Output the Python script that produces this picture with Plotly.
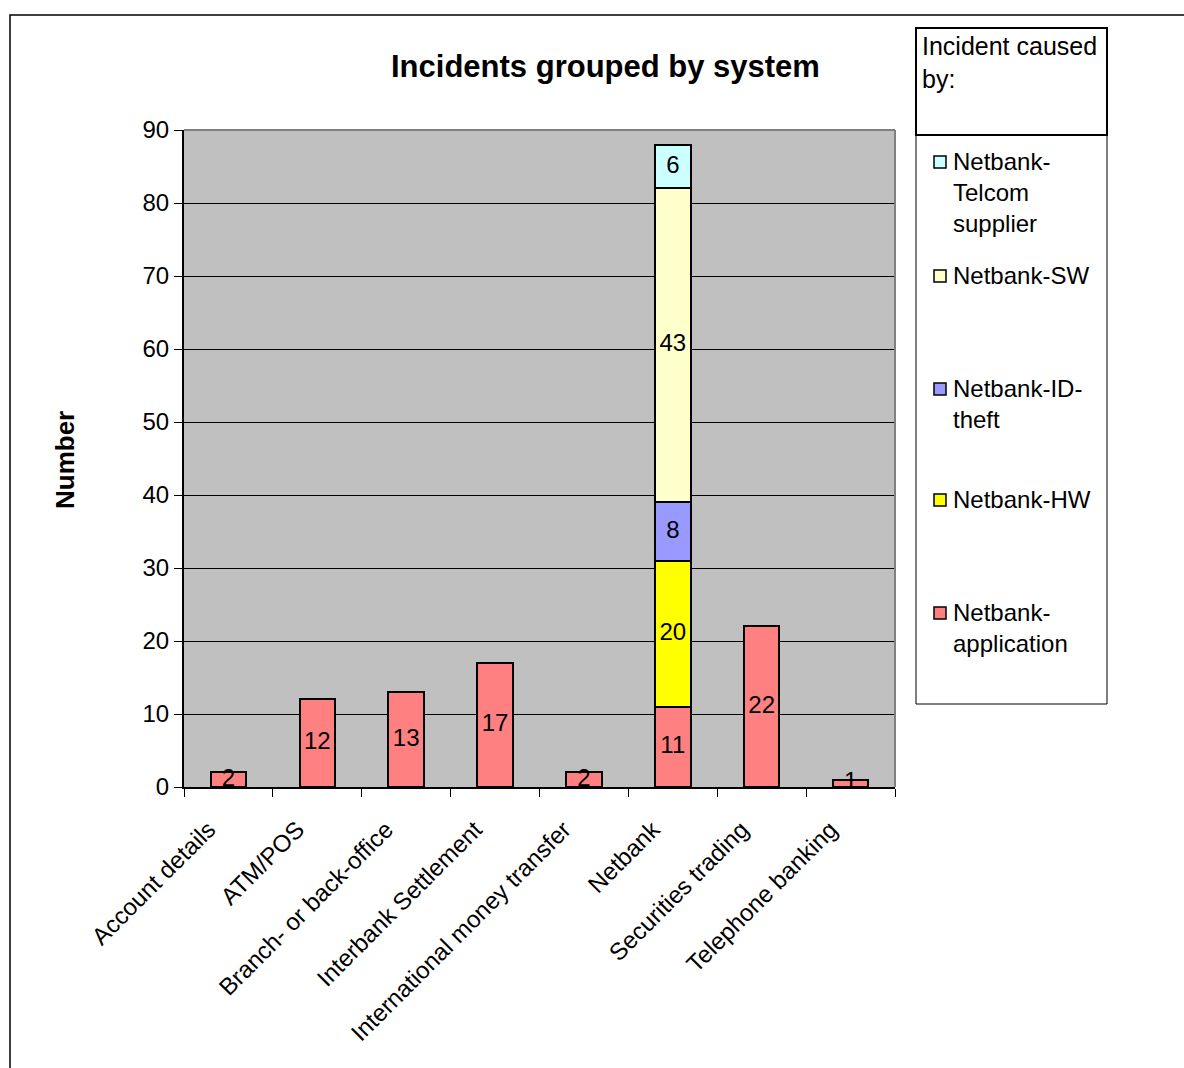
import plotly.graph_objects as go

categories = ["Account details", "ATM/POS", "Branch- or back-office", "Interbank Settlement",
              "International money transfer", "Netbank", "Securities trading", "Telephone banking"]
app_vals = [2, 12, 13, 17, 2, 11, 22, 1]
hw_vals = [None, None, None, None, None, 20, None, None]
id_vals = [None, None, None, None, None, 8, None, None]
sw_vals = [None, None, None, None, None, 43, None, None]
tel_vals = [None, None, None, None, None, 6, None, None]

series_names = ["Netbank-application", "Netbank-HW", "Netbank-ID-theft", "Netbank-SW", "Netbank-Telcom supplier"]
legend_labels = ["Netbank-<br>application", "Netbank-HW", "Netbank-ID-<br>theft", "Netbank-SW", "Netbank-<br>Telcom<br>supplier"]
series_vals = [app_vals, hw_vals, id_vals, sw_vals, tel_vals]
colors = ["#FF8080", "#FFFF00", "#9999FF", "#FFFFCC", "#CCFFFF"]

W, H = 1184, 1068
L, R, T, B = 184, 895, 130, 787
FONT = "Liberation Sans, Arial, sans-serif"

def px(x):
    return (x - L) / (R - L)

def py(y):
    return (B - y) / (B - T)

fig = go.Figure()
base = [0] * len(categories)
for name, vals, col in zip(series_names, series_vals, colors):
    fig.add_trace(go.Bar(x=categories, y=[v if v is not None else 0 for v in vals], name=name,
                         marker=dict(color=col, line=dict(color="black", width=2)),
                         width=0.4, showlegend=False))
    mids, labs, xs = [], [], []
    for i, v in enumerate(vals):
        if v:
            xs.append(categories[i])
            mids.append(base[i] + v / 2)
            labs.append(str(v))
            base[i] += v
    fig.add_trace(go.Scatter(x=xs, y=mids, text=labs, mode="text", showlegend=False,
                             textfont=dict(family=FONT, size=24, color="black"),
                             textposition="middle center", cliponaxis=False, hoverinfo="skip"))

fig.update_layout(
    barmode="stack",
    width=W, height=H,
    margin=dict(l=L, r=W - R, t=T, b=H - B, pad=0),
    paper_bgcolor="white",
    plot_bgcolor="#C0C0C0",
    font=dict(family=FONT, size=24, color="black"),
    showlegend=False,
)
fig.update_xaxes(type="category", tickangle=-45, tickson="boundaries", ticks="outside", ticklen=8,
                 tickcolor="black", tickwidth=1, showline=True, linecolor="black", linewidth=2,
                 showgrid=False, tickfont=dict(size=24), range=[-0.5, 7.5], ticklabelstandoff=17,
                 ticklabelshift=-20, automargin=False)
fig.update_yaxes(range=[0, 90], dtick=10, ticks="outside", ticklen=8, tickcolor="black",
                 showline=True, linecolor="black", linewidth=2, showgrid=True, gridcolor="black",
                 gridwidth=1, zeroline=False, tickfont=dict(size=24), automargin=False)

shapes = []
# chart frame
shapes.append(dict(type="rect", xref="paper", yref="paper", x0=px(10), x1=px(1300), y0=py(1200), y1=py(15),
                   line=dict(color="black", width=1.5), fillcolor="rgba(0,0,0,0)", layer="below"))
# plot area top/right border
shapes.append(dict(type="line", xref="paper", yref="paper", x0=0, x1=1, y0=1, y1=1, line=dict(color="#808080", width=2)))
shapes.append(dict(type="line", xref="paper", yref="paper", x0=1, x1=1, y0=0, y1=1, line=dict(color="#808080", width=2)))
# legend box
shapes.append(dict(type="rect", xref="paper", yref="paper", x0=px(916), x1=px(1107), y0=py(704), y1=py(135),
                   line=dict(color="black", width=1), fillcolor="white"))
shapes.append(dict(type="rect", xref="paper", yref="paper", x0=px(916), x1=px(1107), y0=py(135), y1=py(28),
                   line=dict(color="black", width=2), fillcolor="white"))

annotations = []
annotations.append(dict(text="<b>Incidents grouped by system</b>", xref="paper", yref="paper",
                        x=px(605), y=py(66), showarrow=False, font=dict(size=31), xanchor="center", yanchor="middle"))
annotations.append(dict(text="<b>Number</b>", xref="paper", yref="paper", x=px(65), y=py(460),
                        showarrow=False, textangle=-90, font=dict(size=26), xanchor="center", yanchor="middle"))
annotations.append(dict(text="Incident caused<br>by:", xref="paper", yref="paper", x=px(920), y=py(30),
                        showarrow=False, align="left", xanchor="left", yanchor="top", font=dict(size=25)))

# legend entries (top to bottom): Telcom, SW, ID-theft, HW, application
sq_y = [162, 276, 389, 500, 613]
order = [4, 3, 2, 1, 0]
for idx, yc in zip(order, sq_y):
    shapes.append(dict(type="rect", xref="paper", yref="paper", x0=px(934), x1=px(946), y0=py(yc + 6), y1=py(yc - 6),
                       line=dict(color="black", width=1.5), fillcolor=colors[idx]))
    annotations.append(dict(text=legend_labels[idx], xref="paper", yref="paper", x=px(951), y=py(yc - 16),
                            showarrow=False, align="left", xanchor="left", yanchor="top", font=dict(size=24)))

fig.update_layout(shapes=shapes, annotations=annotations)
fig.write_html("out.html")
